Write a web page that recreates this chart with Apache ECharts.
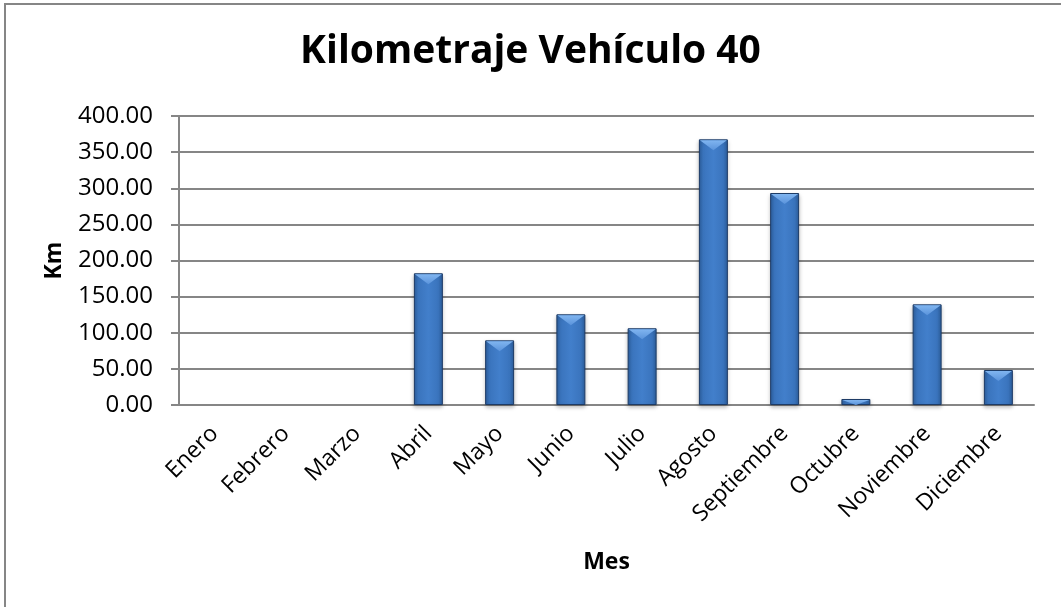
<!DOCTYPE html>
<html>
<head>
<meta charset="utf-8">
<style>
  html, body { margin: 0; padding: 0; background: #fff; }
  #chart { width: 1061px; height: 607px; }
</style>
<script src="https://cdn.jsdelivr.net/npm/echarts@6/dist/echarts.min.js"></script>
</head>
<body>
<div id="chart"></div>
<script>
// Monthly kilometres driven by vehicle 40
const months = ['Enero', 'Febrero', 'Marzo', 'Abril', 'Mayo', 'Junio', 'Julio',
                'Agosto', 'Septiembre', 'Octubre', 'Noviembre', 'Diciembre'];
const km = [0, 0, 0, 182.3, 89.5, 125.5, 106.2, 367.7, 293.4, 8.3, 139.3, 48.4];
const yTicks = [0, 50, 100, 150, 200, 250, 300, 350, 400];

const FONT = '"Open Sans", sans-serif';
const BAR_RATIO = 0.407;
const chart = echarts.init(document.getElementById('chart'), null, { renderer: 'canvas' });

const barBody = new echarts.graphic.LinearGradient(0, 0, 1, 0, [
  { offset: 0, color: '#2c5f9e' },
  { offset: 0.15, color: '#3a74bd' },
  { offset: 0.5, color: '#427fcb' },
  { offset: 0.85, color: '#3a74bd' },
  { offset: 1, color: '#2c5f9e' }
]);

// months without mileage draw no bar at all
const barData = km.map(v => (v > 0 ? v : null));

chart.setOption({
  animation: false,
  graphic: [{
    type: 'rect',
    shape: { x: 5, y: 4, width: 1100, height: 700 },
    style: { fill: 'none', stroke: '#868686', lineWidth: 2 },
    silent: true
  }],
  title: {
    text: 'Kilometraje Vehículo 40',
    left: 'center',
    top: 27,
    textStyle: { fontFamily: FONT, fontSize: 39, fontWeight: 'bold', color: '#000' }
  },
  grid: { left: 179, right: 27, top: 116, bottom: 202 },
  xAxis: {
    type: 'category',
    data: months,
    name: 'Mes',
    nameLocation: 'middle',
    nameGap: 146,
    nameTextStyle: { fontFamily: FONT, fontSize: 23, fontWeight: 'bold', color: '#000' },
    axisLine: { show: true, lineStyle: { color: '#868686', width: 2 } },
    axisTick: { show: false },
    axisLabel: {
      rotate: 45, interval: 0, margin: 25,
      fontFamily: FONT, fontSize: 23, color: '#000'
    }
  },
  yAxis: {
    type: 'value',
    min: yTicks[0],
    max: yTicks[yTicks.length - 1],
    interval: yTicks[1] - yTicks[0],
    name: 'Km',
    nameLocation: 'middle',
    nameGap: 113,
    nameTextStyle: { fontFamily: FONT, fontSize: 23, fontWeight: 'bold', color: '#000' },
    axisLine: { show: true, lineStyle: { color: '#868686', width: 2 } },
    axisTick: { show: true, length: 8, lineStyle: { color: '#868686', width: 2 } },
    splitLine: { show: true, lineStyle: { color: '#868686', width: 2 } },
    axisLabel: {
      margin: 26, fontFamily: FONT, fontSize: 24, color: '#000',
      formatter: v => v.toFixed(2)
    }
  },
  series: [{
    type: 'bar',
    data: barData,
    barWidth: (BAR_RATIO * 100) + '%',
    itemStyle: {
      color: barBody,
      borderColor: '#1d3b66',
      borderWidth: 1,
      shadowColor: 'rgba(0,0,0,0.25)',
      shadowBlur: 4,
      shadowOffsetY: 2
    }
  }, {
    // light bevel highlight at the top of each bar, never taller than the bar
    type: 'custom',
    data: barData,
    z: 3,
    silent: true,
    renderItem: (params, api) => {
      const v = api.value(1);
      if (v == null || isNaN(v)) return null;
      const top = api.coord([api.value(0), v]);
      const base = api.coord([api.value(0), 0]);
      const w = api.size([1, 0])[0] * BAR_RATIO - 2;
      const h = Math.min(10, base[1] - top[1] - 1);
      const x0 = top[0] - w / 2, x1 = top[0] + w / 2, y = top[1] + 1;
      return {
        type: 'polygon',
        shape: { points: [[x0, y], [x1, y], [top[0], y + h]] },
        style: {
          fill: new echarts.graphic.LinearGradient(0, 0, 0, 1, [
            { offset: 0, color: '#80b5f0' },
            { offset: 1, color: '#5a93db' }
          ])
        }
      };
    }
  }]
});
</script>
</body>
</html>
